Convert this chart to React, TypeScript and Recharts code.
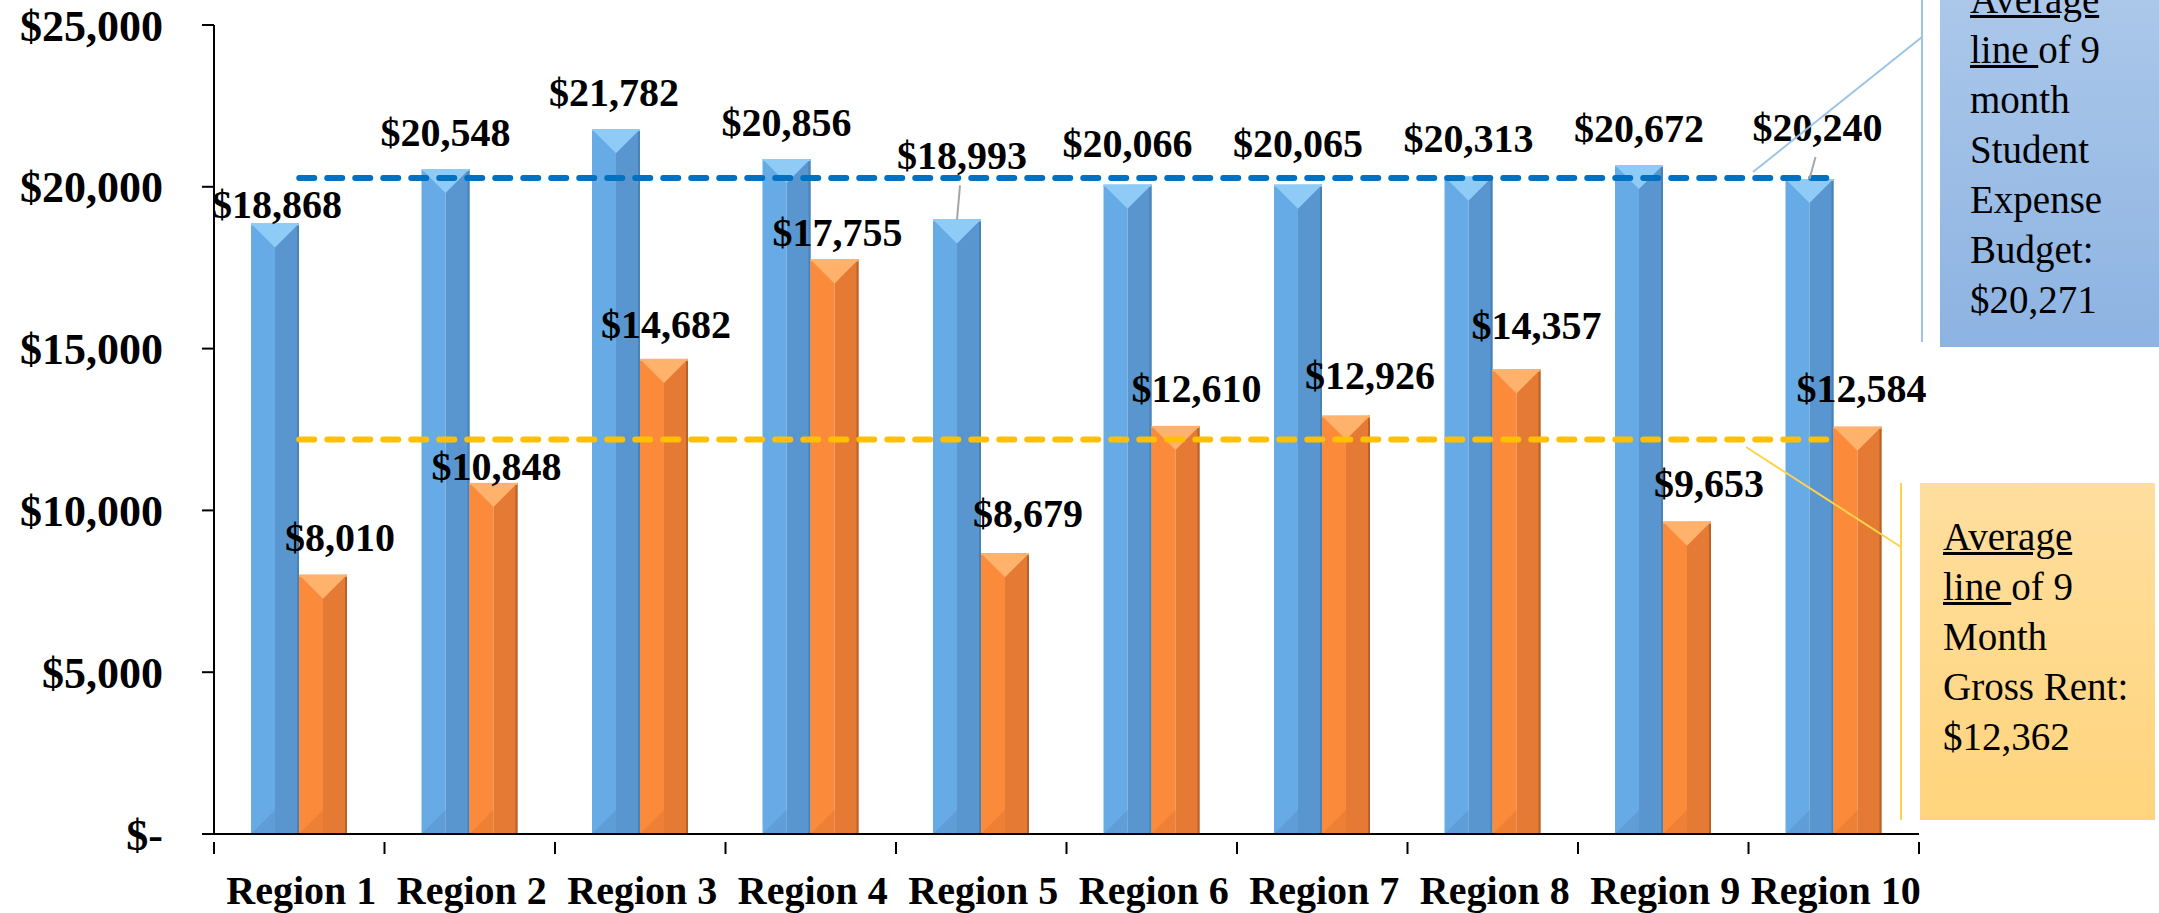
import React from 'react';
import { ComposedChart, Bar, XAxis, YAxis, ReferenceLine, LabelList } from 'recharts';

const regions = ['Region 1', 'Region 2', 'Region 3', 'Region 4', 'Region 5', 'Region 6', 'Region 7', 'Region 8', 'Region 9', 'Region 10'];
const studentBudget = [18868, 20548, 21782, 20856, 18993, 20066, 20065, 20313, 20672, 20240];
const grossRent = [8010, 10848, 14682, 17755, 8679, 12610, 12926, 14357, 9653, 12584];
// dashed average lines, at the height they are drawn in the picture
const avgBudgetLine = 20271;
const avgRentLine = 12190;
const yTicks = [0, 5000, 10000, 15000, 20000, 25000];

// label nudges [dx, dy] in px, relative to the default spot above each bar
const budgetShift = [[2, 18], [0, 0], [-2, 0], [0, 0], [5, -27], [0, -5], [0, -5], [0, -2], [0, 0], [8, -15]];
const rentShift = [[17, -1], [3, 20], [2, 2], [3, 10], [23, -3], [21, -1], [24, -4], [20, -7], [22, -2], [4, -2]];
const budgetLeader = [false, false, false, false, true, false, false, false, false, true];

const W = 2159;
const H = 913;
const PLOT_L = 214;
const PLOT_R = 1919;
const PLOT_T = 25;
const PLOT_B = 834;
const FONT = '"Liberation Serif", "Times New Roman", serif';

const BLUE = { left: '#67ABE6', right: '#5995CE', top: '#8ECBF7', edge: '#4A82B8' };
const ORANGE = { left: '#FC8A3B', right: '#E47A33', top: '#FFB26C', edge: '#B8622A' };

const data = regions.map((name, i) => ({
  name,
  budget: studentBudget[i],
  rent: grossRent[i],
}));

const money = (v: number) => (v === 0 ? '$-' : '$' + v.toLocaleString('en-US'));

const BevelBar = (props: any) => {
  const { x, y, width, height, tone } = props;
  if (!height || height <= 0) return null;
  const c = tone === 'blue' ? BLUE : ORANGE;
  const half = width / 2;
  const tri = Math.min(half, height);
  const b = y + height;
  return (
    <g>
      <rect x={x} y={y} width={half} height={height} fill={c.left} />
      <rect x={x + half} y={y} width={width - half} height={height} fill={c.right} />
      <polygon points={`${x},${b} ${x + half},${b - tri} ${x + half},${b}`} fill={c.right} opacity={0.6} />
      <rect x={x + width - 2} y={y} width={2} height={height} fill={c.edge} />
      <polygon points={`${x},${y} ${x + width},${y} ${x + half},${y + tri}`} fill={c.top} />
      <rect x={x} y={y} width={width} height={2} fill={c.top} />
    </g>
  );
};

const makeLabel = (shifts: number[][], leaders?: boolean[]) => (props: any) => {
  const vb = props.viewBox && props.viewBox.width !== undefined ? props.viewBox : props;
  const { x, y, width } = vb;
  const i = props.index ?? 0;
  const [dx, dy] = shifts[i] || [0, 0];
  const barX = x + width / 2;
  const cx = barX + dx;
  const cy = y - 36 + dy;
  return (
    <g>
      {leaders && leaders[i] ? (
        <line x1={cx - 2} y1={cy + 29} x2={barX} y2={y} stroke="#A6A6A6" strokeWidth={2} />
      ) : null}
      <text x={cx} y={cy + 13} textAnchor="middle" fontFamily={FONT} fontWeight="bold" fontSize={40} fill="#000">
        {money(Number(props.value))}
      </text>
    </g>
  );
};

const bandW = (PLOT_R - PLOT_L) / regions.length;

const RegionTick = (props: any) => {
  const { x, y, payload, index } = props;
  const last = index === regions.length - 1;
  return (
    <g>
      <line x1={x - bandW / 2} y1={y} x2={x - bandW / 2} y2={y + 12} stroke="#000" strokeWidth={2} />
      {last ? <line x1={x + bandW / 2} y1={y} x2={x + bandW / 2} y2={y + 12} stroke="#000" strokeWidth={2} /> : null}
      <text x={x + 2} y={y + 62} textAnchor="middle" fontFamily={FONT} fontWeight="bold" fontSize={40} fill="#000">
        {payload.value}
      </text>
    </g>
  );
};

const boxText: React.CSSProperties = {
  position: 'absolute',
  fontFamily: FONT,
  fontSize: 39,
  lineHeight: '50px',
  color: '#000',
  boxSizing: 'border-box',
};

export default function App() {
  return (
    <div style={{ position: 'absolute', left: 0, top: 0, width: W, height: H, background: '#fff', overflow: 'hidden' }}>
      <ComposedChart
        width={W}
        height={H}
        data={data}
        margin={{ top: PLOT_T, right: W - PLOT_R, bottom: 0, left: 0 }}
        barGap={0}
        barSize={48}
      >
        <XAxis
          dataKey="name"
          height={H - PLOT_B}
          axisLine={{ stroke: '#000', strokeWidth: 2 }}
          tickLine={false}
          interval={0}
          tick={<RegionTick />}
        />
        <YAxis
          width={PLOT_L}
          domain={[0, 25000]}
          ticks={yTicks}
          interval={0}
          axisLine={{ stroke: '#000', strokeWidth: 2 }}
          tickLine={{ stroke: '#000', strokeWidth: 2 }}
          tickSize={12}
          tickMargin={39}
          tickFormatter={money}
          tick={{ fill: '#000', fontSize: 44, fontWeight: 'bold', fontFamily: FONT }}
        />
        <Bar dataKey="budget" isAnimationActive={false} shape={(p: any) => <BevelBar {...p} tone="blue" />}>
          <LabelList dataKey="budget" content={makeLabel(budgetShift, budgetLeader)} />
        </Bar>
        <Bar dataKey="rent" isAnimationActive={false} shape={(p: any) => <BevelBar {...p} tone="orange" />}>
          <LabelList dataKey="rent" content={makeLabel(rentShift)} />
        </Bar>
        <ReferenceLine
          segment={[{ x: regions[0], y: avgBudgetLine }, { x: regions[regions.length - 1], y: avgBudgetLine }]}
          stroke="#0070C0"
          strokeWidth={6}
          strokeDasharray="15 13"
          strokeLinecap="round"
          ifOverflow="visible"
        />
        <ReferenceLine
          segment={[{ x: regions[0], y: avgRentLine }, { x: regions[regions.length - 1], y: avgRentLine }]}
          stroke="#FFC000"
          strokeWidth={6}
          strokeDasharray="15 13"
          strokeLinecap="round"
          ifOverflow="visible"
        />
      </ComposedChart>

      {/* callout boxes for the two average lines */}
      <svg width={W} height={H} style={{ position: 'absolute', left: 0, top: 0, pointerEvents: 'none' }}>
        <line x1={1922} y1={0} x2={1922} y2={342} stroke="#9DC3E6" strokeWidth={2} />
        <line x1={1753} y1={172} x2={1922} y2={37} stroke="#9DC3E6" strokeWidth={2} />
        <line x1={1901} y1={483} x2={1901} y2={820} stroke="#FFD24D" strokeWidth={2} />
        <line x1={1746} y1={447} x2={1901} y2={547} stroke="#FFD24D" strokeWidth={2} />
      </svg>
      <div
        style={{
          ...boxText,
          left: 1940,
          top: -40,
          width: 240,
          height: 387,
          paddingTop: 15,
          paddingLeft: 30,
          background: 'linear-gradient(#AECAEA, #8DB3E2)',
        }}
      >
        <u>Average</u>
        <br />
        <u>line </u>of 9
        <br />
        month
        <br />
        Student
        <br />
        Expense
        <br />
        Budget:
        <br />
        $20,271
      </div>
      <div
        style={{
          ...boxText,
          left: 1920,
          top: 483,
          width: 235,
          height: 337,
          paddingTop: 29,
          paddingLeft: 23,
          background: 'linear-gradient(#FFDE9E, #FFD47C)',
        }}
      >
        <u>Average</u>
        <br />
        <u>line </u>of 9
        <br />
        Month
        <br />
        Gross Rent:
        <br />
        $12,362
      </div>
    </div>
  );
}
